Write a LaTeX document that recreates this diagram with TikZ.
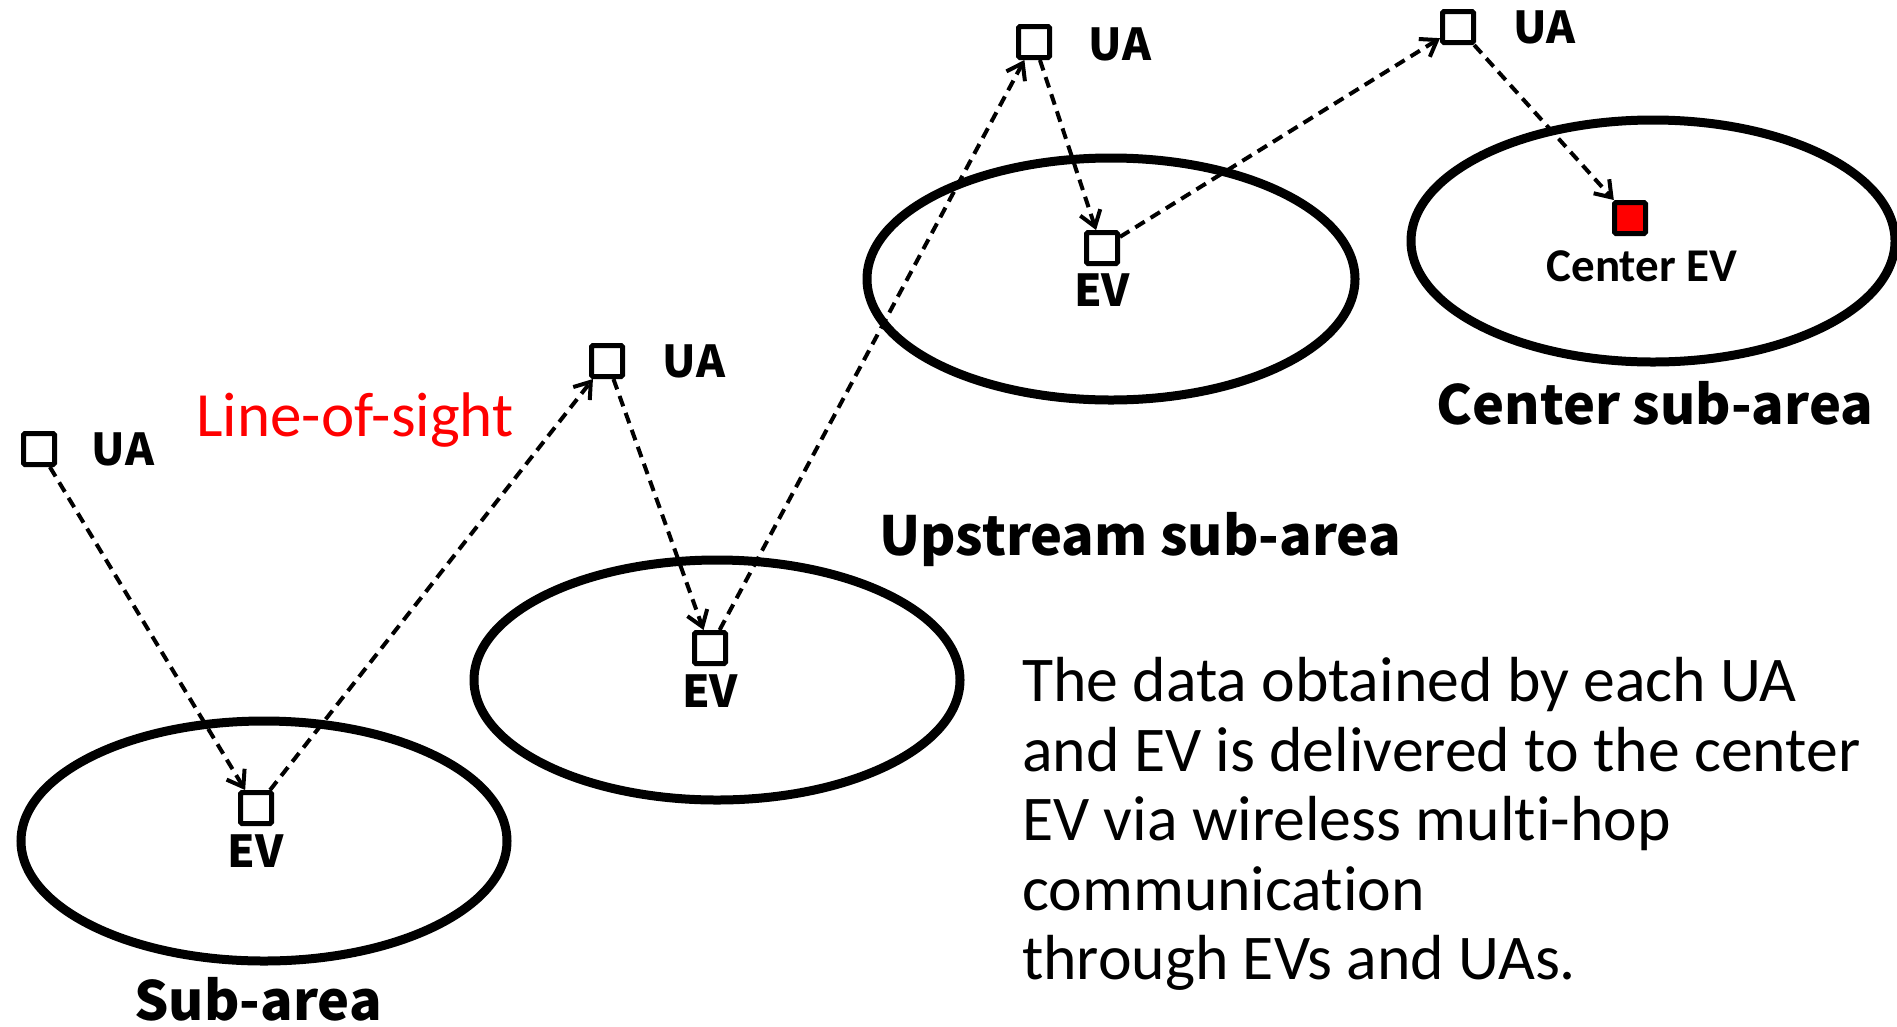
\documentclass[tikz,border=0pt]{standalone}
\usepackage{fontspec}
\setmainfont{Carlito}
\newfontfamily\goth{Noto Sans CJK JP}
\usetikzlibrary{arrows.meta}
\begin{document}
\begin{tikzpicture}[x=1pt,y=-1pt,
  sq/.style={draw, fill=white, line width=5pt, minimum size=31pt, inner sep=0pt, rounded corners=1.5pt},
  area/.style={draw, line width=9pt},
  conn/.style={line width=4pt, dash pattern=on 11pt off 7pt,
    -{Straight Barb[length=15pt,width=21pt,line width=4pt]}},
  lab/.style={font=\goth\bfseries\fontsize{44}{46}\selectfont, inner sep=0pt},
  big/.style={font=\goth\bfseries\fontsize{54}{58}\selectfont, inner sep=0pt},
]
\useasboundingbox (0,0) rectangle (1897,1026);
% sub-areas
\draw[area] (264,841) ellipse [x radius=243pt, y radius=120pt];
\draw[area] (717,680) ellipse [x radius=243pt, y radius=120pt];
\draw[area] (1111,279) ellipse [x radius=244pt, y radius=121pt];
\draw[area] (1653,241) ellipse [x radius=242pt, y radius=121pt];
% squares
\node[sq] (ua1) at (39,449) {};
\node[sq] (ev1) at (256,808) {};
\node[sq] (ua2) at (607,361) {};
\node[sq] (ev2) at (710,648) {};
\node[sq] (ua3) at (1034,42) {};
\node[sq] (ev3) at (1102,248) {};
\node[sq] (ua4) at (1458,27) {};
\node[sq, fill=red] (cev) at (1630,218) {};
% labels
\node[lab] (lua1) at (123,449) {UA};
\node[lab] (lua2) at (694,361) {UA};
\node[lab] (lua3) at (1120,44) {UA};
\node[lab] (lua4) at (1544,27) {UA};
\node[lab] (lev1) at (256,851) {EV};
\node[lab] (lev2) at (710,691) {EV};
\node[lab] (lev3) at (1102,290) {EV};
\node[font=\bfseries\fontsize{47}{50}\selectfont, inner sep=0pt] (lcev) at (1642,266) {Center EV};
\node[font=\fontsize{63}{66}\selectfont, text=red, inner sep=0pt] (los) at (355,420) {Line-of-sight};
\node[big] (up) at (1140,540) {Upstream sub-area};
\node[big] (cs) at (1655,403) {Center sub-area};
\node[big] (sa) at (258,999) {Sub-area};
\node[font=\fontsize{63.7}{69.6}\selectfont\addfontfeatures{Ligatures=NoCommon}, align=left, anchor=north west, inner sep=0pt] (txt) at (1022,657)
  {The data obtained by each UA\\and EV is delivered to the center\\EV via wireless multi-hop\\communication\\through EVs and UAs.};
% connectors
\draw[conn] (ua1) -- (ev1);
\draw[conn] (ev1) -- (ua2);
\draw[conn] (ua2) -- (ev2);
\draw[conn] (ev2) -- (ua3);
\draw[conn] (ua3) -- (ev3);
\draw[conn] (ev3) -- (ua4);
\draw[conn] (ua4) -- (cev);
\end{tikzpicture}
\end{document}
